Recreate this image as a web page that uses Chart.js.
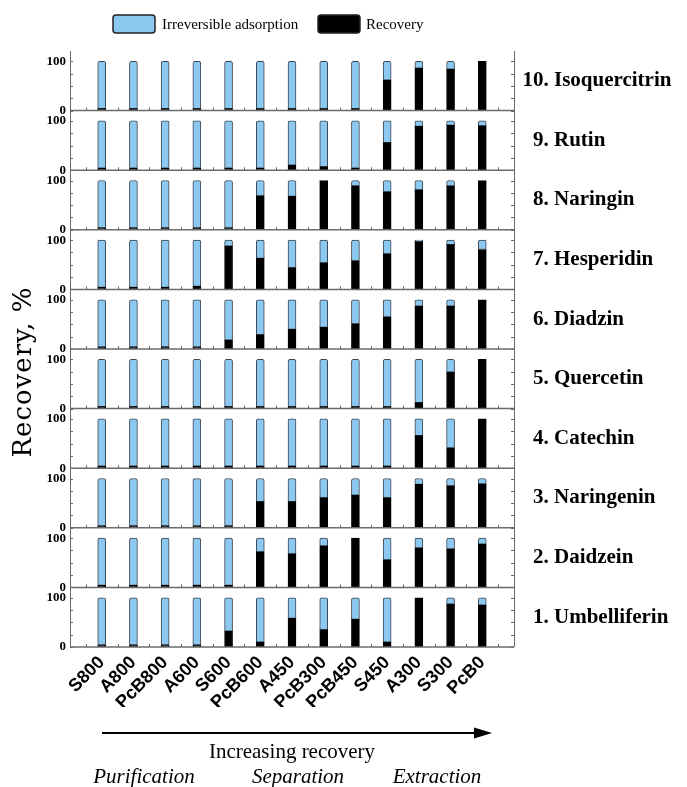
<!DOCTYPE html>
<html lang="en">

<head>
    <meta charset="UTF-8" />
    <title>Recovery of flavonoids</title>
    <script src="https://cdn.jsdelivr.net/npm/chart.js"></script>
    <style>
        html, body { margin: 0; padding: 0; background: #fff; }
        #wrap { width: 687px; height: 787px; }
    </style>
</head>

<body>
    <div id="wrap"><canvas id="recoveryChart"></canvas></div>

    <script>
        // sorbents, in order of increasing recovery
        const sorbents = ['S800', 'A800', 'PcB800', 'A600', 'S600', 'PcB600', 'A450', 'PcB300', 'PcB450', 'S450', 'A300', 'S300', 'PcB0'];

        // panel names, bottom to top
        const compounds = ['1. Umbelliferin', '2. Daidzein', '3. Naringenin', '4. Catechin', '5. Quercetin',
            '6. Diadzin', '7. Hesperidin', '8. Naringin', '9. Rutin', '10. Isoquercitrin'];

        // recovery, %
        const recUmbelliferin = [4, 4, 4, 4, 32, 10, 58, 35, 56, 10, 100, 87, 85];
        const recDaidzein = [4, 4, 4, 4, 4, 72, 68, 84, 100, 56, 80, 78, 88];
        const recNaringenin = [4, 4, 4, 4, 4, 53, 53, 61, 66, 61, 88, 85, 89];
        const recCatechin = [4, 4, 4, 4, 4, 4, 4, 4, 4, 4, 66, 41, 100];
        const recQuercetin = [4, 4, 4, 4, 4, 4, 4, 4, 4, 4, 12, 74, 100];
        const recDiadzin = [4, 4, 4, 4, 18, 29, 40, 44, 51, 65, 87, 87, 100];
        const recHesperidin = [4, 4, 4, 6, 88, 63, 44, 54, 58, 72, 97, 91, 81];
        const recNaringin = [4, 4, 4, 4, 4, 69, 68, 100, 89, 77, 81, 89, 100];
        const recRutin = [4, 4, 4, 4, 4, 4, 10, 7, 4, 56, 89, 91, 90];
        const recIsoquercitrin = [4, 4, 4, 4, 4, 4, 4, 4, 4, 62, 86, 84, 100];

        // irreversible adsorption, %
        const irrUmbelliferin = [96, 96, 96, 96, 68, 90, 42, 65, 44, 90, 0, 13, 15];
        const irrDaidzein = [96, 96, 96, 96, 96, 28, 32, 16, 0, 44, 20, 22, 12];
        const irrNaringenin = [96, 96, 96, 96, 96, 47, 47, 39, 34, 39, 12, 15, 11];
        const irrCatechin = [96, 96, 96, 96, 96, 96, 96, 96, 96, 96, 34, 59, 0];
        const irrQuercetin = [96, 96, 96, 96, 96, 96, 96, 96, 96, 96, 88, 26, 0];
        const irrDiadzin = [96, 96, 96, 96, 82, 71, 60, 56, 49, 35, 13, 13, 0];
        const irrHesperidin = [96, 96, 96, 94, 12, 37, 56, 46, 42, 28, 3, 9, 19];
        const irrNaringin = [96, 96, 96, 96, 96, 31, 32, 0, 11, 23, 19, 11, 0];
        const irrRutin = [96, 96, 96, 96, 96, 96, 90, 93, 96, 44, 11, 9, 10];
        const irrIsoquercitrin = [96, 96, 96, 96, 96, 96, 96, 96, 96, 38, 14, 16, 0];

        const yTickValues = [0, 100];
        const yMinorTicks = [0, 25, 50, 75, 100];

        const recoveryRows = [recUmbelliferin, recDaidzein, recNaringenin, recCatechin, recQuercetin,
            recDiadzin, recHesperidin, recNaringin, recRutin, recIsoquercitrin];
        const irrRows = [irrUmbelliferin, irrDaidzein, irrNaringenin, irrCatechin, irrQuercetin,
            irrDiadzin, irrHesperidin, irrNaringin, irrRutin, irrIsoquercitrin];

        const BLUE = '#8cc8f0';
        const EDGE = '#3a4550';
        const AXIS = '#6a6a6a';

        // empty slot on each side, as in the original figure
        const xLabels = ['', ...sorbents, ''];
        const pad = arr => [null, ...arr, null];

        const datasets = [];
        const scales = {
            x: {
                type: 'category',
                offset: false,
                stacked: true,
                grid: { display: false, drawTicks: false },
                border: { display: false },
                ticks: {
                    autoSkip: false, minRotation: 45, maxRotation: 45, padding: 5, color: '#000',
                    font: { family: 'Liberation Sans', weight: 'bold', size: 18 }
                },
                afterFit: s => { s.height = 60; }
            }
        };

        compounds.forEach((name, i) => {
            const id = 'p' + i;
            scales[id] = {
                type: 'linear',
                position: 'left',
                stack: 'panels',
                stackWeight: 1,
                stacked: true,
                min: 0,
                max: 121,
                afterBuildTicks: s => { s.ticks = yTickValues.map(v => ({ value: v })); },
                grid: { display: false, drawTicks: false },
                border: { display: true, color: AXIS, width: 1 },
                ticks: {
                    padding: 4, color: '#000',
                    font: { family: 'Liberation Serif', weight: 'bold', size: 13 }
                },
                afterFit: s => { s.width = 40; }
            };
            datasets.push({
                label: 'Recovery',
                data: pad(recoveryRows[i]),
                yAxisID: id,
                stack: 'bars',
                backgroundColor: '#000',
                borderColor: '#000',
                borderWidth: 1,
                borderSkipped: false,
                barThickness: 8
            });
            datasets.push({
                label: 'Irreversible adsorption',
                data: pad(irrRows[i]),
                yAxisID: id,
                stack: 'bars',
                backgroundColor: BLUE,
                borderColor: EDGE,
                borderWidth: 1,
                borderSkipped: false,
                borderRadius: { topLeft: 2, topRight: 2, bottomLeft: 0, bottomRight: 0 },
                barThickness: 8
            });
        });

        const decor = {
            id: 'decor',
            afterDatasetsDraw(chart) {
                const ctx = chart.ctx;
                const area = chart.chartArea;
                const xs = chart.scales.x;
                ctx.save();
                ctx.strokeStyle = AXIS;
                // right frame
                ctx.lineWidth = 1;
                ctx.beginPath();
                ctx.moveTo(area.right + 0.5, area.top);
                ctx.lineTo(area.right + 0.5, area.bottom);
                ctx.stroke();
                compounds.forEach((name, i) => {
                    const s = chart.scales['p' + i];
                    // panel base line
                    ctx.lineWidth = 1.5;
                    ctx.beginPath();
                    ctx.moveTo(area.left, s.bottom);
                    ctx.lineTo(area.right, s.bottom);
                    ctx.stroke();
                    // inward ticks on both sides
                    ctx.lineWidth = 1;
                    yMinorTicks.forEach(v => {
                        const y = Math.round(s.getPixelForValue(v)) + 0.5;
                        ctx.beginPath();
                        ctx.moveTo(area.left, y); ctx.lineTo(area.left + 3, y);
                        ctx.moveTo(area.right - 3, y); ctx.lineTo(area.right, y);
                        ctx.stroke();
                    });
                    // small ticks between the bars
                    for (let k = 0; k < xLabels.length - 1; k++) {
                        const x = Math.round((xs.getPixelForValue(k) + xs.getPixelForValue(k + 1)) / 2) + 0.5;
                        ctx.beginPath();
                        ctx.moveTo(x, s.bottom); ctx.lineTo(x, s.bottom - 3);
                        ctx.stroke();
                    }
                });
                ctx.restore();
            },
            afterDraw(chart) {
                const ctx = chart.ctx;
                ctx.save();
                ctx.fillStyle = '#000';

                // compound names on the right
                ctx.font = 'bold 21px "Liberation Serif"';
                ctx.textBaseline = 'middle';
                ctx.textAlign = 'left';
                compounds.forEach((name, i) => {
                    const s = chart.scales['p' + i];
                    const prefix = name.slice(0, name.indexOf(' ') + 1);
                    const x = 554 - ctx.measureText(prefix).width;
                    ctx.fillText(name, x, (s.top + s.bottom) / 2);
                });

                // legend
                ctx.lineWidth = 1.5;
                ctx.strokeStyle = '#222';
                ctx.fillStyle = BLUE;
                ctx.beginPath(); ctx.roundRect(113, 15, 42, 18, 3); ctx.fill(); ctx.stroke();
                ctx.fillStyle = '#000';
                ctx.beginPath(); ctx.roundRect(318, 15, 42, 18, 3); ctx.fill(); ctx.stroke();
                ctx.font = '15px "Liberation Serif"';
                ctx.fillText('Irreversible adsorption', 162, 25);
                ctx.fillText('Recovery', 366, 25);

                // y title
                ctx.save();
                ctx.translate(24, 372);
                ctx.rotate(-Math.PI / 2);
                ctx.textAlign = 'center';
                ctx.font = '26px "DejaVu Serif"';
                ctx.letterSpacing = '1px';
                ctx.fillText('Recovery, %', 0, 0);
                ctx.restore();

                // arrow
                ctx.strokeStyle = '#000';
                ctx.lineWidth = 2;
                ctx.beginPath();
                ctx.moveTo(102, 733); ctx.lineTo(478, 733);
                ctx.stroke();
                ctx.beginPath();
                ctx.moveTo(492, 733); ctx.lineTo(474, 727.5); ctx.lineTo(474, 738.5);
                ctx.closePath(); ctx.fill();

                ctx.textAlign = 'center';
                ctx.font = '21px "Liberation Serif"';
                ctx.fillText('Increasing recovery', 292, 752);
                ctx.font = 'italic 21px "Liberation Serif"';
                ctx.fillText('Purification', 144, 777);
                ctx.fillText('Separation', 298, 777);
                ctx.fillText('Extraction', 437, 777);
                ctx.restore();
            }
        };

        new Chart(document.getElementById('recoveryChart'), {
            type: 'bar',
            data: { labels: xLabels, datasets },
            options: {
                responsive: true,
                maintainAspectRatio: false,
                animation: false,
                layout: { padding: { top: 51, left: 30, right: 173, bottom: 80 } },
                plugins: { legend: { display: false }, tooltip: { enabled: false } },
                scales
            },
            plugins: [decor]
        });
    </script>
</body>

</html>
